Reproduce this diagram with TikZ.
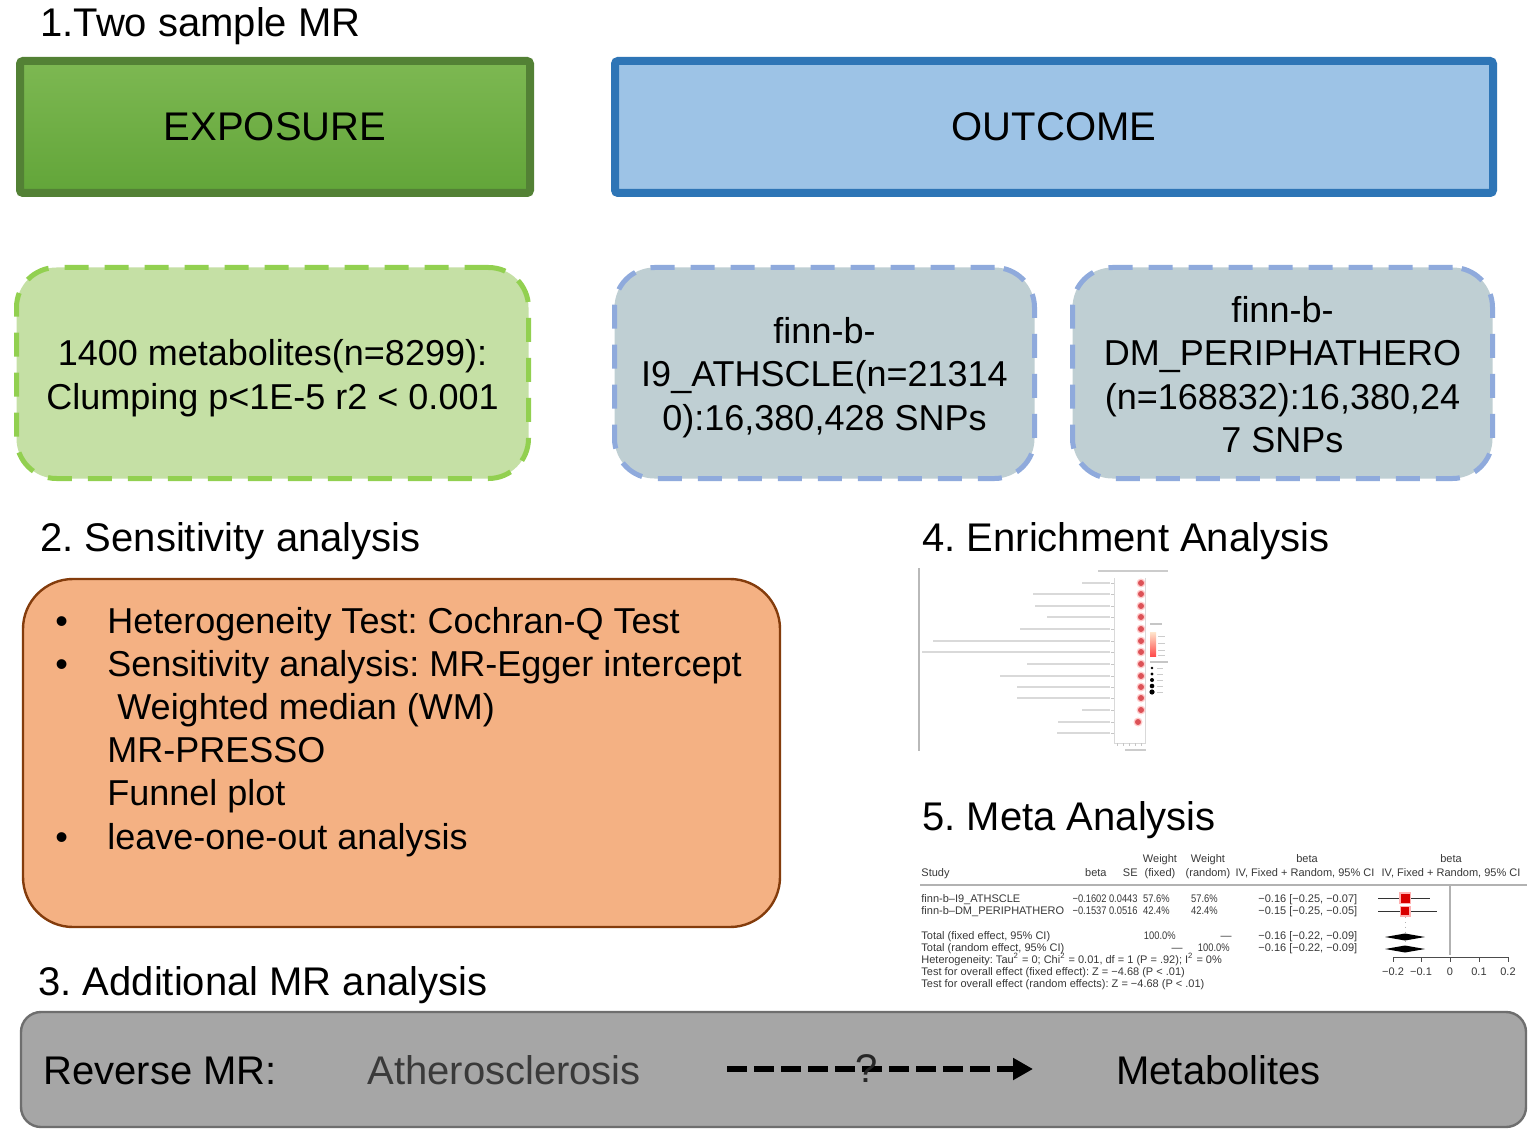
\documentclass[tikz,border=0pt]{standalone}
\usepackage{fontspec}
\setmainfont{Liberation Sans}
\usetikzlibrary{arrows.meta,shadows}
\definecolor{exfillT}{HTML}{7DB852}
\definecolor{exfillB}{HTML}{62A539}
\definecolor{exborder}{HTML}{538135}
\definecolor{outfill}{HTML}{9DC3E6}
\definecolor{outborder}{HTML}{2E75B6}
\definecolor{lgfill}{HTML}{C5E0A5}
\definecolor{lgborder}{HTML}{92D050}
\definecolor{bgfill}{HTML}{BFCFD3}
\definecolor{bgborder}{HTML}{8FAADC}
\definecolor{orfill}{HTML}{F4B183}
\definecolor{orborder}{HTML}{843C0C}
\definecolor{grfill}{HTML}{A6A6A6}
\definecolor{grborder}{HTML}{6E6E6E}
\definecolor{athc}{HTML}{3A3A3A}
\definecolor{mtc}{HTML}{383838}
\definecolor{dotred}{HTML}{DC5257}
\newcommand\nnum[1]{\scalebox{0.85}[1]{#1}}
\tikzset{
  head/.style={anchor=base west, inner sep=0pt, font=\fontsize{20}{24}\selectfont},
  bigbox/.style={rectangle, rounded corners=1.5pt, line width=4pt, inner sep=0pt,
     minimum height=66pt, font=\fontsize{20}{24}\selectfont,
     drop shadow={shadow xshift=1pt, shadow yshift=-1.5pt, opacity=0.18, fill=black}},
  dbox/.style={rectangle, rounded corners=20pt, line width=2.5pt, dash pattern=on 12pt off 8pt,
     inner sep=0pt, minimum height=105.5pt, minimum width=210pt},
  dtxt/.style={align=center, inner sep=0pt, font=\fontsize{18}{21.7}\selectfont},
  btxt/.style={anchor=base west, inner sep=0pt, font=\fontsize{18}{21.7}\selectfont},
  mt/.style={inner sep=0pt, text=mtc, font=\fontsize{5.5}{6.6}\selectfont},
  mtl/.style={mt, anchor=base west},
  mtr/.style={mt, anchor=base east},
  mtc/.style={mt, anchor=base},
  lbl/.style={gray!30, line width=0.6pt},
}
\begin{document}
\frenchspacing
\begin{tikzpicture}[x=0.5pt,y=-0.5pt]
\useasboundingbox (0,0) rectangle (1536,1134);
\fill[white] (0,0) rectangle (1536,1134);

% ---- section 1 ----
\node[head] (t1) at (40,37) {1.Two sample MR};
\node[bigbox, draw=exborder, top color=exfillT, bottom color=exfillB, minimum width=255pt] (expo) at (275,127) {EXPOSURE};
\node[bigbox, draw=outborder, fill=outfill, minimum width=439pt] (outc) at (1054,127) {OUTCOME};

\node[dbox, draw=lgborder, fill=lgfill, minimum width=256pt] (met) at (272.5,373) {};
\node[dtxt] (mett) at (272.5,378) {1400 metabolites(n=8299):\\Clumping p<1E-5 r2 < 0.001};
\node[dbox, draw=bgborder, fill=bgfill] (ath) at (824.5,373) {};
\node[dtxt] (atht) at (824.5,377.5) {finn-b-\\I9\_ATHSCLE(n=21314\\0):16,380,428 SNPs};
\node[dbox, draw=bgborder, fill=bgfill] (per) at (1282.5,373) {};
\node[dtxt] (pert) at (1282.5,374.5) {finn-b-\\DM\_PERIPHATHERO\\(n=168832):16,380,24\\7 SNPs};

% ---- section 2 ----
\node[head] (t2) at (40,551) {2. Sensitivity analysis};
\node[rectangle, rounded corners=25pt, draw=orborder, line width=1.2pt, fill=orfill,
      minimum width=378.5pt, minimum height=174pt] (sens) at (401.5,753) {};
\node[btxt] (u1) at (55,633) {•};
\node[btxt] (u2) at (55,676) {•};
\node[btxt] (u3) at (55,849) {•};
\node[btxt] (b1) at (107,633) {Heterogeneity Test: Cochran-Q Test};
\node[btxt] (b2) at (107,676) {Sensitivity analysis: MR-Egger intercept};
\node[btxt] (b3) at (117,719) {Weighted median (WM)};
\node[btxt] (b4) at (107,762) {MR-PRESSO};
\node[btxt] (b5) at (107,805) {Funnel plot};
\node[btxt] (b6) at (107,849) {leave-one-out analysis};

% ---- section 4 ----
\node[head] (t4) at (922,551) {4. Enrichment Analysis};
\draw[gray!55, line width=0.6pt] (919,568) -- (919,751);
\draw[gray!30, line width=0.4pt] (1114,578) -- (1114,743) -- (1145,743) -- (1145,578);
\draw[gray!40, line width=0.7pt] (1098,571) -- (1168,571);
\foreach \yy/\xl in {583/1082, 594/1033, 606/1035, 617/1047, 629/1020, 641/933, 652/922, 664/1027, 676/1000, 687/1017, 698/1017, 710/1082, 722/1058, 733/1057}{
  \draw[lbl] (\xl,\yy) -- (1110,\yy);
  \draw[gray!45, line width=0.3pt] (1111,\yy) -- (1114,\yy);
}
\foreach \yy in {583, 594, 606, 617, 629, 641, 652, 664, 676, 687, 698, 710}{
  \fill[red!20] (1141,\yy) circle (4.5);
  \fill[dotred] (1141,\yy) circle (3.0);
}
\fill[red!20] (1138,722) circle (4.5);
\fill[dotred] (1138,722) circle (3.0);
\foreach \xx in {1117,1123,1129,1135,1141}{\draw[gray!45, line width=0.3pt] (\xx,743) -- (\xx,746);}
\draw[gray!40, line width=0.7pt] (1125,750) -- (1146,750);
% legend
\draw[gray!45, line width=0.6pt] (1150,624) -- (1162,624);
\shade[top color=orange!20, bottom color=red!70] (1150,632) rectangle (1156,656);
\foreach \yy in {636,643,650,655}{\draw[gray!40, line width=0.5pt] (1158,\yy) -- (1165,\yy);}
\draw[gray!45, line width=0.6pt] (1150,662) -- (1168,662);
\foreach \yy/\rr in {668/1.4, 674/1.7, 680/2.0, 686/2.3, 692/2.6}{
  \fill[black] (1152,\yy) circle (\rr);
  \draw[gray!40, line width=0.5pt] (1157,\yy) -- (1163,\yy);
}

% ---- section 5 ----
\node[head] (t5) at (922,830) {5. Meta Analysis};
\node[mtc] (h1a) at (1160,862) {Weight};
\node[mtc] (h1b) at (1208,862) {Weight};
\node[mtc] (h1c) at (1307,862) {beta};
\node[mtc] (h1d) at (1451,862) {beta};
\node[mtl] (h2a) at (921,876) {Study};
\node[mtr] (h2b) at (1107,876) {beta};
\node[mtr] (h2c) at (1138,876) {SE};
\node[mtc] (h2d) at (1160,876) {(fixed)};
\node[mtc] (h2e) at (1208,876) {(random)};
\node[mtc] (h2f) at (1305,876) {IV, Fixed + Random, 95\% CI};
\node[mtc] (h2g) at (1451,876) {IV, Fixed + Random, 95\% CI};
\draw[gray!60, line width=1pt] (920,885) -- (1527,885);
\node[mtl] (r1a) at (921,902) {finn-b–I9\_ATHSCLE};
\node[mtr] (r1b) at (1107,902) {\nnum{−0.1602}};
\node[mtr] (r1c) at (1138,902) {\nnum{0.0443}};
\node[mtr] (r1d) at (1170,902) {\nnum{57.6\%}};
\node[mtr] (r1e) at (1218,902) {\nnum{57.6\%}};
\node[mtl] (r1f) at (1258,902) {−0.16 [−0.25, −0.07]};
\node[mtl] (r2a) at (921,914) {finn-b–DM\_PERIPHATHERO};
\node[mtr] (r2b) at (1107,914) {\nnum{−0.1537}};
\node[mtr] (r2c) at (1138,914) {\nnum{0.0516}};
\node[mtr] (r2d) at (1170,914) {\nnum{42.4\%}};
\node[mtr] (r2e) at (1218,914) {\nnum{42.4\%}};
\node[mtl] (r2f) at (1258,914) {−0.15 [−0.25, −0.05]};
\node[mtl] (r3a) at (921,939) {Total (fixed effect, 95\% CI)};
\node[mtr] (r3d) at (1176,939) {\nnum{100.0\%}};
\node[mtc] (r3e) at (1226,939) {—};
\node[mtl] (r3f) at (1258,939) {−0.16 [−0.22, −0.09]};
\node[mtl] (r4a) at (921,951) {Total (random effect, 95\% CI)};
\node[mtc] (r4d) at (1177,951) {—};
\node[mtr] (r4e) at (1230,951) {\nnum{100.0\%}};
\node[mtl] (r4f) at (1258,951) {−0.16 [−0.22, −0.09]};
\node[mtl] (r5) at (921,963) {Heterogeneity: Tau\textsuperscript{2} = 0; Chi\textsuperscript{2} = 0.01, df = 1 (P = .92); I\textsuperscript{2} = 0\%};
\node[mtl] (r6) at (921,975) {Test for overall effect (fixed effect): Z = −4.68 (P < .01)};
\node[mtl] (r7) at (921,987) {Test for overall effect (random effects): Z = −4.68 (P < .01)};
% forest plot
\draw[gray!60, line width=1pt] (1450,885) -- (1450,955);
\draw[gray!60, dotted, line width=0.4pt] (1405,898) -- (1405,955);
\draw[black!80, line width=0.4pt] (1378,898) -- (1430,898);
\draw[black!80, line width=0.4pt] (1378,911) -- (1437,911);
\fill[red!30] (1399,892) rectangle (1411,904);
\fill[red!85!black] (1400.5,893.5) rectangle (1409.5,902.5);
\fill[red!30] (1399.5,905.5) rectangle (1410.5,916.5);
\fill[red!85!black] (1401,907) rectangle (1409,915);
\fill[black] (1385,937) -- (1405,933.5) -- (1425,937) -- (1405,940.5) -- cycle;
\fill[black] (1385,949) -- (1405,945.5) -- (1425,949) -- (1405,952.5) -- cycle;
\draw[black!70, line width=0.5pt] (1393,957) -- (1508,957);
\foreach \xx/\tt in {1393/−0.2, 1421/−0.1, 1450/0, 1479/0.1, 1508/0.2}{
  \draw[black!70, line width=0.5pt] (\xx,957) -- (\xx,962);
  \node[mtc] at (\xx,975) {\tt};
}

% ---- section 3 ----
\node[head] (t3) at (38,995) {3. Additional MR analysis};
\node[rectangle, rounded corners=10pt, draw=grborder, line width=1.2pt, fill=grfill,
      minimum width=752.5pt, minimum height=57.5pt] (rev) at (773.5,1069.5) {};
\node[head] (rmr) at (43,1084) {Reverse MR:};
\node[head, text=athc] (athr) at (367,1084) {Atherosclerosis};
\node[head] (metr) at (1116,1084) {Metabolites};
\coordinate (ra) at (727,1069);
\coordinate (rb) at (1033,1069);
\draw[line width=3pt, dash pattern=on 10pt off 3.5pt, -{Triangle[length=10pt,width=10.5pt]}] (ra) -- (rb);
\node[inner sep=0pt, text=black!85, font=\fontsize{20}{24}\selectfont] (qm) at (867,1069) {?};
\end{tikzpicture}
\end{document}
